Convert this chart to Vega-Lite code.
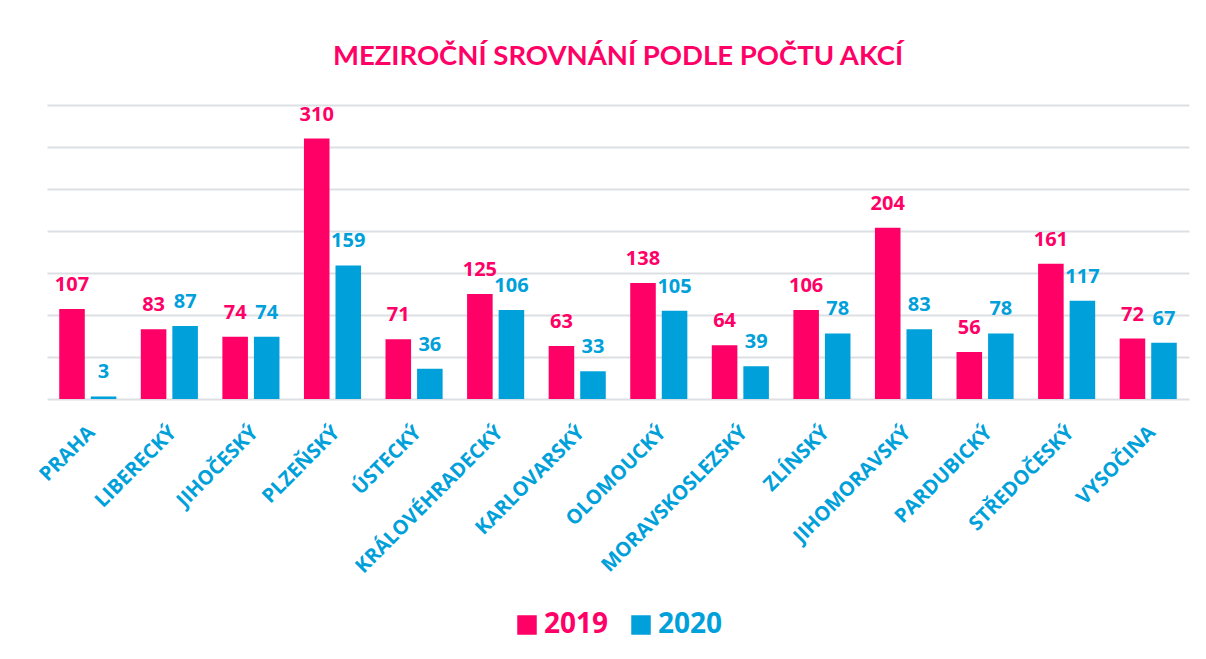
{
  "$schema": "https://vega.github.io/schema/vega-lite/v6.json",
  "width": 1142,
  "height": 294,
  "autosize": {"type": "none"},
  "padding": {"left": 47, "top": 105, "right": 17, "bottom": 260},
  "background": "white",
  "title": {
    "text": "MEZIROČNÍ SROVNÁNÍ PODLE POČTU AKCÍ",
    "color": "#FF0066",
    "font": "Lato",
    "fontSize": 27.5,
    "fontWeight": "bold",
    "anchor": "middle",
    "baseline": "middle",
    "offset": 20
  },
  "data": {
    "values": [
      {"kraj": "PRAHA", "rok": "2019", "pocet": 107},
      {"kraj": "PRAHA", "rok": "2020", "pocet": 3},
      {"kraj": "LIBERECKÝ", "rok": "2019", "pocet": 83},
      {"kraj": "LIBERECKÝ", "rok": "2020", "pocet": 87},
      {"kraj": "JIHOČESKÝ", "rok": "2019", "pocet": 74},
      {"kraj": "JIHOČESKÝ", "rok": "2020", "pocet": 74},
      {"kraj": "PLZEŇSKÝ", "rok": "2019", "pocet": 310},
      {"kraj": "PLZEŇSKÝ", "rok": "2020", "pocet": 159},
      {"kraj": "ÚSTECKÝ", "rok": "2019", "pocet": 71},
      {"kraj": "ÚSTECKÝ", "rok": "2020", "pocet": 36},
      {"kraj": "KRÁLOVÉHRADECKÝ", "rok": "2019", "pocet": 125},
      {"kraj": "KRÁLOVÉHRADECKÝ", "rok": "2020", "pocet": 106},
      {"kraj": "KARLOVARSKÝ", "rok": "2019", "pocet": 63},
      {"kraj": "KARLOVARSKÝ", "rok": "2020", "pocet": 33},
      {"kraj": "OLOMOUCKÝ", "rok": "2019", "pocet": 138},
      {"kraj": "OLOMOUCKÝ", "rok": "2020", "pocet": 105},
      {"kraj": "MORAVSKOSLEZSKÝ", "rok": "2019", "pocet": 64},
      {"kraj": "MORAVSKOSLEZSKÝ", "rok": "2020", "pocet": 39},
      {"kraj": "ZLÍNSKÝ", "rok": "2019", "pocet": 106},
      {"kraj": "ZLÍNSKÝ", "rok": "2020", "pocet": 78},
      {"kraj": "JIHOMORAVSKÝ", "rok": "2019", "pocet": 204},
      {"kraj": "JIHOMORAVSKÝ", "rok": "2020", "pocet": 83},
      {"kraj": "PARDUBICKÝ", "rok": "2019", "pocet": 56},
      {"kraj": "PARDUBICKÝ", "rok": "2020", "pocet": 78},
      {"kraj": "STŘEDOČESKÝ", "rok": "2019", "pocet": 161},
      {"kraj": "STŘEDOČESKÝ", "rok": "2020", "pocet": 117},
      {"kraj": "VYSOČINA", "rok": "2019", "pocet": 72},
      {"kraj": "VYSOČINA", "rok": "2020", "pocet": 67}
    ]
  },
  "encoding": {
    "x": {
      "field": "kraj",
      "type": "nominal",
      "sort": null,
      "scale": {"paddingInner": 0.3, "paddingOuter": 0.15},
      "axis": {
        "title": null,
        "labelAngle": -45,
        "labelColor": "#00A0DA",
        "labelFont": "Open Sans",
        "labelFontSize": 20,
        "labelFontWeight": "bold",
        "labelPadding": 23,
        "labelLimit": 400,
        "labelOffset": -3,
        "ticks": false,
        "domain": false,
        "grid": false
      }
    },
    "xOffset": {
      "field": "rok",
      "type": "nominal",
      "scale": {"paddingInner": 0.19, "paddingOuter": 0}
    },
    "y": {
      "field": "pocet",
      "type": "quantitative",
      "scale": {"domain": [0, 350], "nice": false},
      "axis": {
        "title": null,
        "labels": false,
        "ticks": false,
        "domain": false,
        "grid": true,
        "values": [0, 50, 100, 150, 200, 250, 300, 350],
        "gridColor": "#DCDFE4",
        "gridWidth": 2
      }
    },
    "color": {
      "field": "rok",
      "type": "nominal",
      "scale": {"domain": ["2019", "2020"], "range": ["#FF0066", "#00A0DA"]},
      "legend": {
        "title": null,
        "orient": "none",
        "legendX": 466,
        "legendY": 506,
        "padding": 0,
        "direction": "horizontal",
        "symbolType": "square",
        "symbolSize": 380,
        "symbolStrokeWidth": 0,
        "labelFont": "Open Sans",
        "labelFontSize": 28,
        "labelFontWeight": "bold",
        "labelOffset": 3,
        "labelColor": {"expr": "datum.label == '2019' ? '#FF0066' : '#00A0DA'"},
        "columnPadding": 18
      }
    }
  },
  "layer": [
    {"mark": {"type": "bar", "opacity": 1}},
    {
      "mark": {
        "type": "text",
        "font": "Open Sans",
        "fontSize": 20,
        "fontWeight": "bold",
        "baseline": "middle",
        "dy": -24
      },
      "encoding": {"text": {"field": "pocet", "type": "quantitative"}}
    }
  ],
  "config": {"view": {"stroke": null}}
}
